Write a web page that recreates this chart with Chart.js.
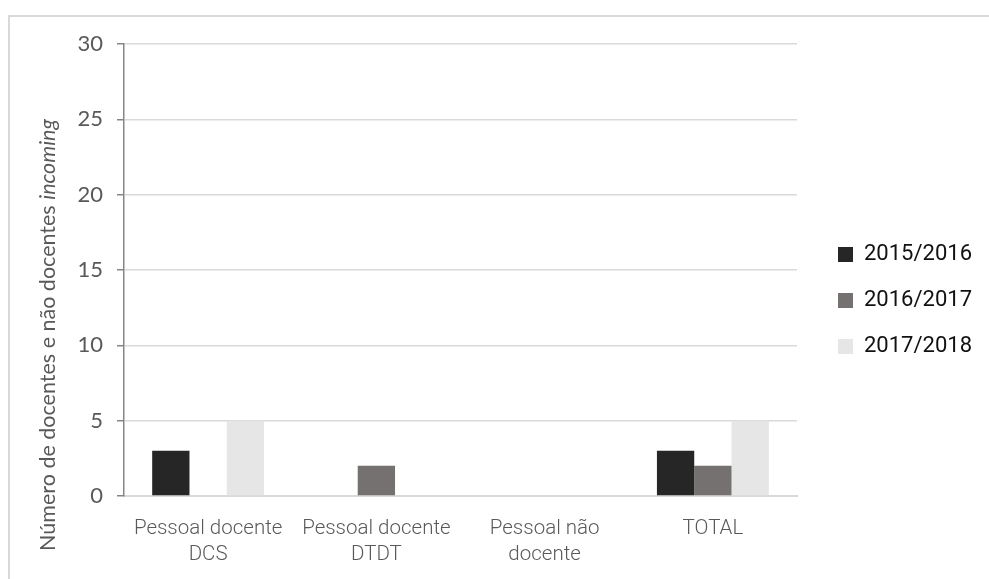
<!DOCTYPE html>
<html>
<head>
<meta charset="utf-8">
<script src="https://cdn.jsdelivr.net/npm/chart.js@4.4.1/dist/chart.umd.min.js"></script>
<style>
  html, body { margin: 0; padding: 0; background: #fff; overflow: hidden; }
  #wrap { position: relative; width: 989px; height: 579px; overflow: hidden; }
  #frame {
    position: absolute; left: 8px; top: 15px; width: 1200px; height: 800px;
    border: 2px solid #d9d9d9; box-sizing: border-box;
  }
  #chart { position: absolute; left: 0; top: 0; }
</style>
</head>
<body>
<div id="wrap">
  <div id="frame"></div>
  <canvas id="chart" width="989" height="579"></canvas>
</div>
<script>
// ─── DONNÉES ─────────────────────────────────────────────────────────────
const categories = [
    ['Pessoal docente', 'DCS'],
    ['Pessoal docente', 'DTDT'],
    ['Pessoal não', 'docente'],
    'TOTAL'
];
const seriesNames = ['2015/2016', '2016/2017', '2017/2018'];
const values1516 = [3, 0, 0, 3];
const values1617 = [0, 2, 0, 2];
const values1718 = [5, 0, 0, 5];
const yMin = 0, yMax = 30, yStep = 5;
const yTitle = 'Número de docentes e não docentes ';
const yTitleItalic = 'incoming';

const colors = ['#262626', '#767171', '#e7e6e6'];
const tickFont = "Lato, 'Open Sans', sans-serif";
const labelFont = "Roboto, 'Open Sans', sans-serif";

// ─── LÉGENDE : largeur calculée pour caler la zone du graphique ──────────
const legendSize = 22, legendBox = 15, legendPad = 24;
const plotRight = 797, legendBoxX = 838;
const meas = document.createElement('canvas').getContext('2d');
meas.font = `400 ${legendSize}px ${labelFont}`;
const legendTextW = Math.max(...seriesNames.map(s => meas.measureText(s).width));
const legendW = legendPad + legendBox + legendSize / 2 + legendTextW + 10;
const padRight = 989 - plotRight - legendW;

// titre de l'axe Y avec une partie en italique
const yTitlePlugin = {
    id: 'yTitle',
    afterDraw(chart) {
        const c = chart.ctx;
        c.save();
        c.translate(48, 335);
        c.rotate(-Math.PI / 2);
        c.fillStyle = '#595959';
        c.textBaseline = 'middle';
        const f1 = `21.5px ${tickFont}`, f2 = `italic 21.5px ${tickFont}`;
        c.font = f1; const w1 = c.measureText(yTitle).width;
        c.font = f2; const w2 = c.measureText(yTitleItalic).width;
        const x = -(w1 + w2) / 2;
        c.font = f1; c.textAlign = 'left'; c.fillText(yTitle, x, 0);
        c.font = f2; c.fillText(yTitleItalic, x + w1, 0);
        c.restore();
    }
};

// décaler la légende
const legendShift = {
    id: 'legendShift',
    afterLayout(chart) {
        const l = chart.legend;
        if (!l) return;
        const dx = legendBoxX - (l.left + legendPad);
        l.left += dx; l.right += dx;
        l.top -= 11; l.bottom -= 11;
    }
};

const chart = new Chart(document.getElementById('chart'), {
    type: 'bar',
    data: {
        labels: categories,
        datasets: [values1516, values1617, values1718].map((d, i) => ({
            label: seriesNames[i],
            data: d,
            backgroundColor: colors[i],
            borderWidth: 0,
            categoryPercentage: 0.665,
            barPercentage: 1
        }))
    },
    options: {
        responsive: false,
        animation: false,
        layout: { padding: { left: 0, top: 44, right: padRight, bottom: 0 } },
        scales: {
            x: {
                grid: { display: false, drawTicks: false },
                border: { color: '#d9d9d9', width: 2 },
                ticks: {
                    color: '#595959', padding: 20,
                    font: { family: labelFont, size: 20.5, weight: '300', lineHeight: 1.27 }
                },
                afterFit: s => { s.height = 83; }
            },
            y: {
                min: yMin, max: yMax,
                ticks: {
                    stepSize: yStep, color: '#595959', padding: 14,
                    font: { family: tickFont, size: 22 }
                },
                grid: { color: '#d9d9d9', lineWidth: 1.5, tickColor: '#868686', tickLength: 7 },
                border: { color: '#868686', width: 1.5 },
                afterFit: s => { s.width = 124; }
            }
        },
        plugins: {
            legend: {
                position: 'right',
                labels: {
                    boxWidth: legendBox, boxHeight: legendBox, padding: legendPad,
                    color: '#111111',
                    font: { family: labelFont, size: legendSize, weight: '400' }
                }
            },
            tooltip: { enabled: false }
        }
    },
    plugins: [yTitlePlugin, legendShift]
});
</script>
</body>
</html>
